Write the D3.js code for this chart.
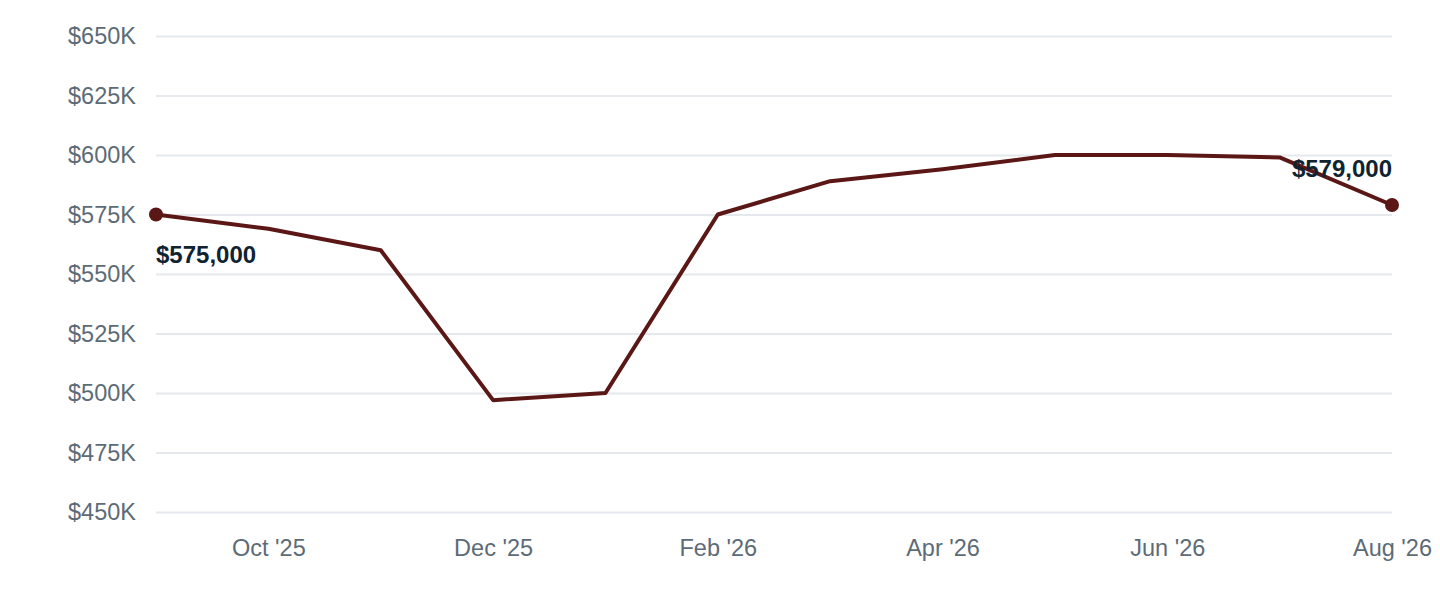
<!DOCTYPE html>
<html>
<head>
<meta charset="utf-8">
<script src="https://cdn.jsdelivr.net/npm/d3@7"></script>
<style>
  html, body { margin: 0; padding: 0; background: #fff; }
  svg { display: block; font-family: "Liberation Sans", Arial, Helvetica, sans-serif; }
</style>
</head>
<body>
<svg></svg>
<script>
  // monthly median price, Sep '25 .. Aug '26
  const months = ["Sep '25", "Oct '25", "Nov '25", "Dec '25", "Jan '26", "Feb '26",
                  "Mar '26", "Apr '26", "May '26", "Jun '26", "Jul '26", "Aug '26"];
  const prices = [575000, 569000, 560000, 497000, 500000, 575000,
                  589000, 594000, 600000, 600000, 599000, 579000];
  const yTicks = [450000, 475000, 500000, 525000, 550000, 575000, 600000, 625000, 650000];
  const xTickLabels = ["Oct '25", "Dec '25", "Feb '26", "Apr '26", "Jun '26", "Aug '26"];

  const width = 1440;
  const height = 600;
  const margin = { top: 36, right: 48, bottom: 88, left: 156 };

  const lineColor = '#5a1715';
  const tickColor = '#5d6b77';

  const svg = d3.select('svg').attr('width', width).attr('height', height);

  const x = d3.scalePoint().domain(months).range([margin.left, width - margin.right]);
  const y = d3.scaleLinear().domain([450000, 650000]).range([height - margin.bottom, margin.top]);

  const data = months.map((m, i) => ({ month: m, value: prices[i] }));

  // y axis + grid
  const yAxis = d3.axisLeft(y)
    .tickValues(yTicks)
    .tickSize(-(width - margin.left - margin.right))
    .tickPadding(20)
    .tickFormat(d => '$' + d / 1000 + 'K');

  svg.append('g')
    .attr('transform', `translate(${margin.left},0)`)
    .call(yAxis)
    .call(g => g.select('.domain').remove())
    .call(g => g.selectAll('.tick line').attr('stroke', '#e5e8ec').attr('stroke-width', 2))
    .call(g => g.selectAll('.tick text')
      .attr('fill', tickColor)
      .attr('font-size', '23.5px'));

  // x axis, every other month
  const xAxis = d3.axisBottom(x)
    .tickValues(xTickLabels)
    .tickSize(0)
    .tickPadding(0);

  svg.append('g')
    .attr('transform', `translate(0,${height - margin.bottom})`)
    .call(xAxis)
    .call(g => g.select('.domain').remove())
    .call(g => g.selectAll('.tick text')
      .attr('fill', tickColor)
      .attr('font-size', '23.5px')
      .attr('dy', null)
      .attr('y', 44));

  const line = d3.line()
    .x(d => x(d.month))
    .y(d => y(d.value));

  svg.append('path')
    .datum(data)
    .attr('fill', 'none')
    .attr('stroke', lineColor)
    .attr('stroke-width', 4)
    .attr('stroke-linejoin', 'round')
    .attr('d', line);

  const first = data[0];
  const last = data[data.length - 1];

  svg.selectAll('circle.end')
    .data([first, last])
    .join('circle')
      .attr('class', 'end')
      .attr('cx', d => x(d.month))
      .attr('cy', d => y(d.value))
      .attr('r', 7)
      .attr('fill', lineColor);

  const fmt = d3.format('$,');

  svg.append('text')
    .attr('x', x(first.month))
    .attr('y', y(first.value) + 48)
    .attr('text-anchor', 'start')
    .attr('font-size', '24px')
    .attr('font-weight', 'bold')
    .attr('fill', '#0f2330')
    .text(fmt(first.value));

  svg.append('text')
    .attr('x', x(last.month))
    .attr('y', y(last.value) - 28)
    .attr('text-anchor', 'end')
    .attr('font-size', '24px')
    .attr('font-weight', 'bold')
    .attr('fill', '#0f2330')
    .text(fmt(last.value));
</script>
</body>
</html>
